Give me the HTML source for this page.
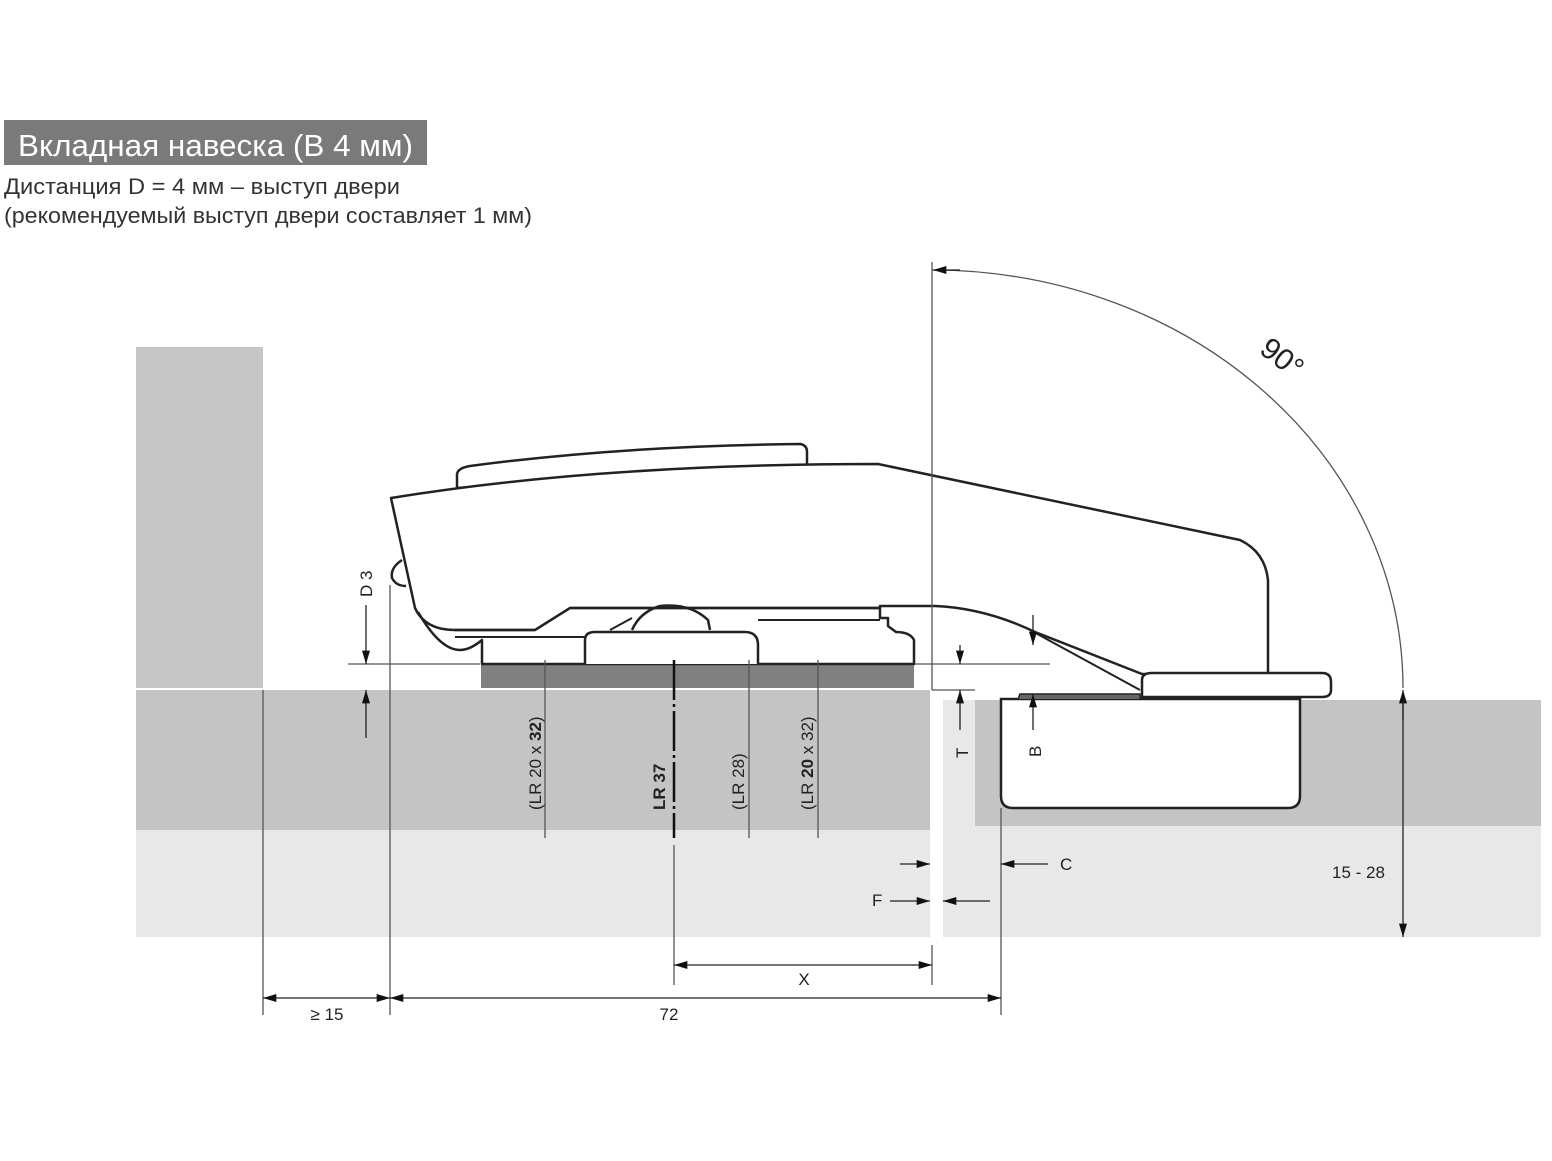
<!DOCTYPE html>
<html><head><meta charset="utf-8"><style>
html,body{margin:0;padding:0;background:#fff;width:1552px;height:1161px;overflow:hidden}
svg{display:block}
text{font-family:"Liberation Sans","DejaVu Sans",sans-serif}
</style></head><body>
<svg width="1552" height="1161" viewBox="0 0 1552 1161" xmlns="http://www.w3.org/2000/svg">
<defs>
<marker id="a" viewBox="0 0 10 6" refX="10" refY="3" markerWidth="22" markerHeight="8" markerUnits="userSpaceOnUse" orient="auto-start-reverse"><path d="M0,0 L10,3 L0,6 z" fill="#111"/></marker>
</defs>
<!-- header -->
<rect x="4" y="120" width="423" height="45" fill="#7a7a7a"/>
<text x="18" y="156" font-size="31" fill="#fff" textLength="395" lengthAdjust="spacingAndGlyphs">Вкладная навеска (B 4 мм)</text>
<text x="4" y="194" font-size="22" fill="#333" textLength="396" lengthAdjust="spacingAndGlyphs">Дистанция D = 4 мм – выступ двери</text>
<text x="4" y="223" font-size="22" fill="#333" textLength="528" lengthAdjust="spacingAndGlyphs">(рекомендуемый выступ двери составляет 1 мм)</text>

<!-- panels -->
<rect x="136" y="347" width="127" height="341" fill="#c6c6c6"/>
<rect x="136" y="690" width="794" height="140" fill="#c4c4c4"/>
<rect x="136" y="830" width="794" height="107" fill="#e8e8e8"/>
<rect x="943" y="700" width="598" height="237" fill="#e8e8e8"/>
<rect x="975" y="700" width="566" height="126" fill="#c4c4c4"/>
<rect x="481" y="664" width="433" height="24" fill="#808080"/>

<!-- cup -->
<path d="M1001,699 L1300,699 L1300,796 Q1300,808 1288,808 L1013,808 Q1001,808 1001,796 Z" fill="#fff" stroke="#222" stroke-width="2.5"/>
<path d="M1018,699 L1020,694 L1140,694 L1140,699" fill="#666" stroke="#222" stroke-width="1.5"/>

<!-- hinge body -->
<g fill="#fff" stroke="#222" stroke-width="2.5" stroke-linejoin="round">
<path d="M457,488 L457,474 Q458,468 470,466 Q620,446 800,444 Q807,445 807,452 L807,465 Z"/>
<path d="M391,498 Q600,464 878,464 L1240,540 Q1265,552 1268,580 L1268,674 L1142,674 L1035,632 Q985,608 935,606 L880,606 L880,608 L570,608 L535,630 L455,630 Q425,630 415,608 Z"/>
<path d="M418,612 Q440,650 460,650 Q470,650 482,640 L482,664 L914,664 L914,640 Q910,632 896,632 L888,626 L888,618 L880,618 L880,608 L570,608 L535,630 L455,630" fill="none"/>
<path d="M402,560 Q390,568 392,578 Q396,586 406,586" fill="none"/>
<path d="M455,637 L585,637 M758,620 L880,620" fill="none" stroke-width="2"/>
<path d="M585,664 L585,640 Q585,632 595,632 L745,632 Q758,632 758,645 L758,664"/>
<path d="M632,630 Q640,612 660,606 Q690,603 708,620 L710,630" fill="none"/>
<path d="M610,630 L632,618" fill="none" stroke-width="2"/>
<path d="M1142,697 L1142,680 Q1142,673 1152,673 L1322,673 Q1331,673 1331,682 L1331,690 Q1331,697 1322,697 Z"/>
</g>
<line x1="1140" y1="690" x2="1030" y2="630" stroke="#222" stroke-width="2"/>

<!-- construction lines -->
<g stroke="#555" stroke-width="1.3" fill="none">
<line x1="932" y1="262" x2="932" y2="690"/>
<line x1="932" y1="690" x2="975" y2="690"/>
<line x1="348" y1="664" x2="480" y2="664"/>
<line x1="915" y1="664" x2="1050" y2="664"/>
<line x1="263" y1="690" x2="263" y2="1015"/>
<line x1="390" y1="585" x2="390" y2="1015"/>
<line x1="1001" y1="808" x2="1001" y2="1015"/>
<line x1="932" y1="945" x2="932" y2="985"/>
<line x1="674" y1="845" x2="674" y2="985"/>
<line x1="545" y1="660" x2="545" y2="838"/>
<line x1="749" y1="660" x2="749" y2="838"/>
<line x1="818" y1="660" x2="818" y2="838"/>
<path d="M932,270 A471,418 0 0 1 1403,688"/>
</g>
<line x1="674" y1="660" x2="674" y2="838" stroke="#111" stroke-width="2.5" stroke-dasharray="40,4,3,4"/>

<!-- dimension arrows -->
<g stroke="#222" stroke-width="1.3" fill="none">
<line x1="366" y1="605" x2="366" y2="664" marker-end="url(#a)"/>
<line x1="366" y1="738" x2="366" y2="690" marker-end="url(#a)"/>
<line x1="960" y1="645" x2="960" y2="664" marker-end="url(#a)"/>
<line x1="960" y1="730" x2="960" y2="690" marker-end="url(#a)"/>
<line x1="1033" y1="615" x2="1033" y2="645" marker-end="url(#a)"/>
<line x1="1033" y1="730" x2="1033" y2="694" marker-end="url(#a)"/>
<line x1="1403" y1="720" x2="1403" y2="690" marker-end="url(#a)"/>
<line x1="1403" y1="700" x2="1403" y2="937" marker-end="url(#a)"/>
<line x1="960" y1="270" x2="933" y2="270" marker-end="url(#a)"/>
<line x1="900" y1="864" x2="930" y2="864" marker-end="url(#a)"/>
<line x1="1048" y1="864" x2="1001" y2="864" marker-end="url(#a)"/>
<line x1="890" y1="901" x2="930" y2="901" marker-end="url(#a)"/>
<line x1="990" y1="901" x2="943" y2="901" marker-end="url(#a)"/>
<line x1="800" y1="965" x2="674" y2="965" marker-end="url(#a)"/>
<line x1="800" y1="965" x2="932" y2="965" marker-end="url(#a)"/>
<line x1="320" y1="998" x2="263" y2="998" marker-end="url(#a)"/>
<line x1="320" y1="998" x2="390" y2="998" marker-end="url(#a)"/>
<line x1="690" y1="998" x2="390" y2="998" marker-end="url(#a)"/>
<line x1="690" y1="998" x2="1001" y2="998" marker-end="url(#a)"/>
</g>

<!-- labels -->
<g fill="#222" font-size="17">
<text x="1258" y="352" font-size="30" transform="rotate(38 1258 352)">90°</text>
<text x="327" y="1020" text-anchor="middle">≥ 15</text>
<text x="669" y="1020" text-anchor="middle">72</text>
<text x="804" y="985" text-anchor="middle">X</text>
<text x="1060" y="870">C</text>
<text x="872" y="906">F</text>
<text x="1332" y="878">15 - 28</text>
<text transform="translate(372,597) rotate(-90)">D 3</text>
<text transform="translate(968,758) rotate(-90)">T</text>
<text transform="translate(1041,757) rotate(-90)">B</text>
<text transform="translate(541,810) rotate(-90)">(LR 20 x <tspan font-weight="bold">32</tspan>)</text>
<text transform="translate(665,810) rotate(-90)" font-weight="bold">LR 37</text>
<text transform="translate(744,810) rotate(-90)">(LR 28)</text>
<text transform="translate(813,810) rotate(-90)">(LR <tspan font-weight="bold">20</tspan> x 32)</text>
</g>
</svg>
</body></html>
